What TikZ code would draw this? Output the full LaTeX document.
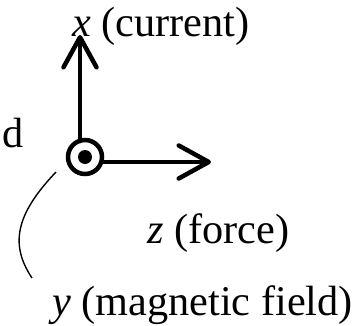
\documentclass[tikz,border=0pt]{standalone}
\usepackage{fontspec}
\setmainfont{Liberation Serif}
\usetikzlibrary{arrows.meta}
\tikzset{
  axis/.style={line width=4.5bp, line cap=round, line join=round,
    -{Straight Barb[length=30bp, width=33bp, round]}},
  lbl/.style={inner sep=0pt, font=\fontsize{42.3bp}{48bp}\selectfont},
  leader/.style={line width=1.4bp},
}
\begin{document}
\begin{tikzpicture}[x=1bp, y=-1bp]
\useasboundingbox (0,0) rectangle (357,326);
% y-axis symbol (out of page)
\node[circle, draw, line width=4.5bp, minimum size=34bp, inner sep=0pt] (o) at (85,157) {};
\fill (o.center) circle[radius=7bp];
% axes
\coordinate (xs) at (80,141);
\coordinate (xt) at (80,35);
\coordinate (zs) at (102,162);
\coordinate (zt) at (211,162);
\draw[axis] (xs) -- (xt);
\draw[axis] (zs) -- (zt);
% labels
\node[lbl, anchor=base west] (xl) at (72,36) {\textit{x} (current)};
\node[lbl, anchor=base west] (zl) at (147,243) {\textit{z} (force)};
\node[lbl, anchor=base west] (yl) at (52,315) {\textit{y} (magnetic field)};
\node[lbl, anchor=base east] (dl) at (24,147) {d};
% leader
\coordinate (la) at (56,172);
\coordinate (lb) at (32,278);
\draw[leader] (la) .. controls (15,215) and (10,245) .. (lb);
\end{tikzpicture}
\end{document}
